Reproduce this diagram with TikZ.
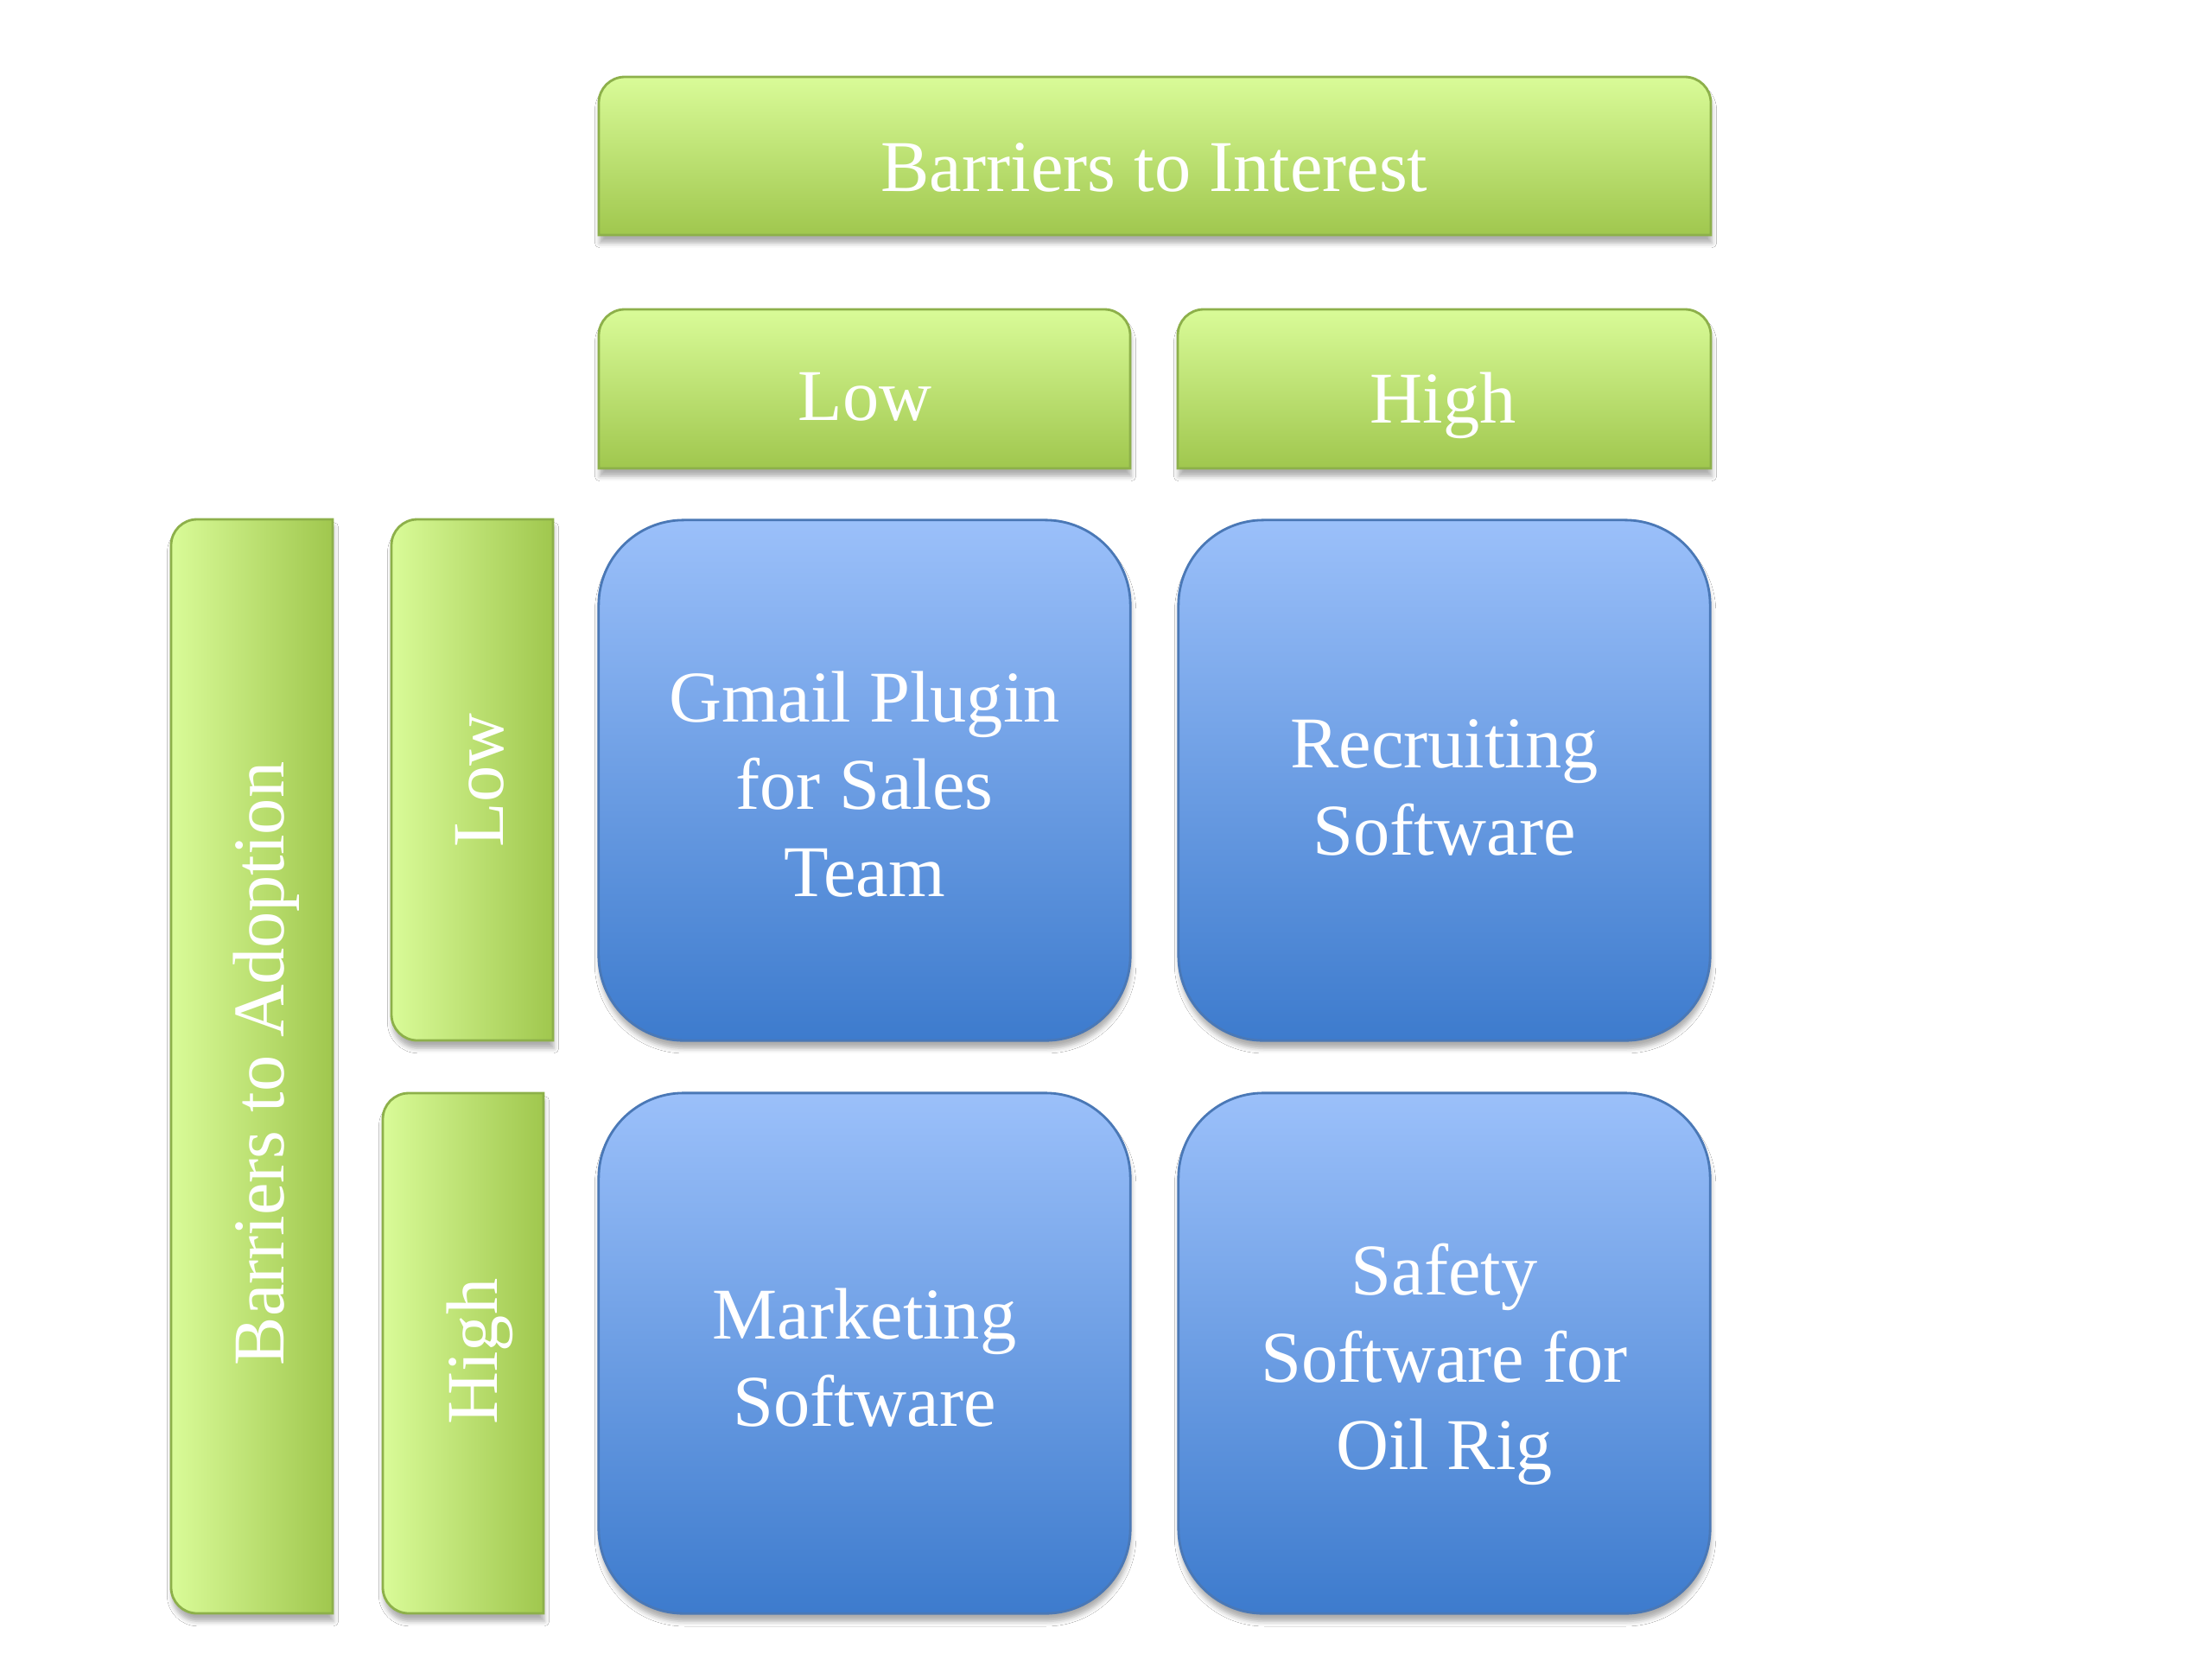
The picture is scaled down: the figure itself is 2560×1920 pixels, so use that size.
\documentclass[tikz,border=0pt]{standalone}
\usepackage{fontspec}
\setmainfont{Liberation Serif}
\usetikzlibrary{shadows.blur}
\definecolor{gLight}{HTML}{D9FB98}
\definecolor{gDark}{HTML}{A0C74E}
\definecolor{gEdge}{HTML}{8DB04A}
\definecolor{bLight}{HTML}{9BC0FA}
\definecolor{bDark}{HTML}{3D7BCD}
\definecolor{bEdge}{HTML}{4A78B6}
\tikzset{
 shd/.style={blur shadow={shadow xshift=0.3pt,shadow yshift=-2.6pt,shadow opacity=32,shadow blur radius=1.6pt}},
 htab/.style={shd, top color=gLight, bottom color=gDark, draw=gEdge, line width=0.8pt},
 vtab/.style={shd, left color=gLight, right color=gDark, draw=gEdge, line width=0.8pt},
 cell/.style={shd, rounded corners=28pt, top color=bLight, bottom color=bDark, draw=bEdge, line width=0.8pt,
   minimum width=6.15cm, minimum height=6.02cm, inner sep=0pt},
 celltext/.style={text=white, align=center, inner sep=0pt, font=\fontsize{24}{28.7}\selectfont},
 lbl/.style={text=white, font=\fontsize{24}{28.7}\selectfont, inner sep=0pt},
}
\newcommand\hTab[4]{\path[htab] (#1,#4) -- (#1,#2+30) .. controls (#1,#2+13.4) and (#1+13.4,#2) .. (#1+30,#2) -- (#3-30,#2) .. controls (#3-13.4,#2) and (#3,#2+13.4) .. (#3,#2+30) -- (#3,#4) -- cycle;}
\newcommand\vTab[4]{\path[vtab] (#3,#2) -- (#1+30,#2) .. controls (#1+13.4,#2) and (#1,#2+13.4) .. (#1,#2+30) -- (#1,#4-30) .. controls (#1,#4-13.4) and (#1+13.4,#4) .. (#1+30,#4) -- (#3,#4) -- cycle;}
\begin{document}
\begin{tikzpicture}[x=0.01cm,y=-0.01cm]
\fill[white] (0,0) rectangle (2560,1920);
\useasboundingbox (0,0) rectangle (2560,1920);
% header tabs
\hTab{693}{89}{1980}{272}
\hTab{693}{358}{1308}{542}
\hTab{1363}{358}{1980}{542}
% side tabs
\vTab{198}{601}{385}{1867}
\vTab{453}{601}{640}{1204}
\vTab{443}{1265}{629}{1867}
% labels
\node[lbl] (interest) at (1336,194) {Barriers to Interest};
\node[lbl] (lowI) at (1001,459) {Low};
\node[lbl] (highI) at (1670,469) {High};
\node[lbl,rotate=90] (adoption) at (308,1231) {Barriers to Adoption};
\node[lbl,rotate=90] (lowA) at (555,903) {Low};
\node[lbl,rotate=90] (highA) at (555,1564) {High};
% cells
\node[cell] (gmail) at (1000.5,903) {};
\node[cell] (recruit) at (1671.5,903) {};
\node[cell] (marketing) at (1000.5,1566) {};
\node[cell] (safety) at (1671.5,1566) {};
\node[celltext] (gmailT) at (1000.5,908) {Gmail Plugin\\for Sales\\Team};
\node[celltext] (recruitT) at (1671.5,911) {Recruiting\\Software};
\node[celltext] (marketingT) at (1000.5,1571) {Marketing\\Software};
\node[celltext] (safetyT) at (1671.5,1579) {Safety\\Software for\\Oil Rig};
\end{tikzpicture}
\end{document}
